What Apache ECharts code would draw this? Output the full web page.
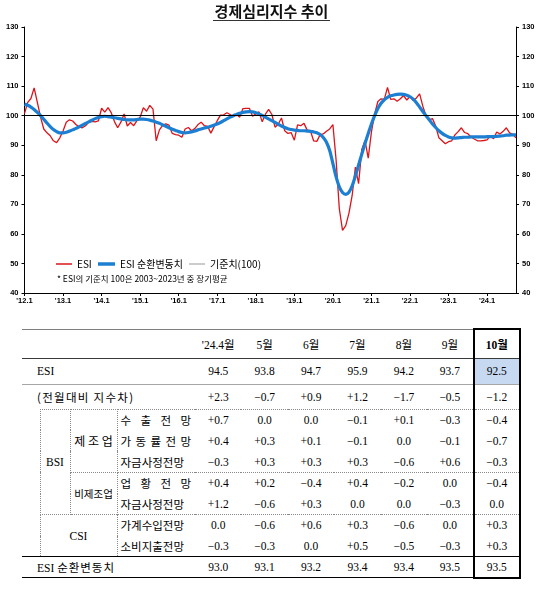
<!DOCTYPE html>
<html>
<head>
<meta charset="utf-8">
<script src="https://cdn.jsdelivr.net/npm/echarts@6/dist/echarts.min.js"></script>
<style>
  html, body { margin:0; padding:0; background:#fff; }
  #wrap { position:relative; width:549px; height:590px; overflow:hidden; }
  #title { position:absolute; left:-3px; top:1px; width:549px; text-align:center; }
  #title span { display:inline-block; font-family:'Noto Sans CJK KR',sans-serif; font-weight:bold; font-size:15px; line-height:19px; color:#111; border-bottom:1px solid #333; padding:0 2px; }
  #chart { position:absolute; left:0; top:0; width:549px; height:310px; }
  #tbl { position:absolute; left:22px; top:328px; width:498px; border-collapse:collapse; table-layout:fixed;
         font-family:'Liberation Serif','Noto Sans CJK KR',serif; font-size:11.5px; color:#000; }
  #tbl td { padding:0; text-align:center; vertical-align:middle; white-space:nowrap; }
  #tbl td.lbl { text-align:left; padding-left:15px; font-family:'Liberation Serif','Noto Sans CJK KR',serif; }
  #tbl .kr { font-family:'Noto Sans CJK KR',sans-serif; font-size:11.5px; }
  #tbl td.item { font-family:'Noto Sans CJK KR',sans-serif; font-size:11.5px; text-align:justify; text-align-last:justify; padding:0 4px 0 3px; }
  #tbl .dt { border-top:1px dotted #8a8a8a; }
  #tbl .dl { border-left:1px dotted #8a8a8a; }
  #tbl .dr { border-right:1px dotted #8a8a8a; }
  #tbl .db { border-bottom:1px dotted #8a8a8a; }
  #tbl td.last { border-left:2px solid #000; border-right:2px solid #000; }
</style>
</head>
<body>
<div id="wrap">
  <div id="chart"></div>
  <div id="title"><span>경제심리지수 추이</span></div>
  <table id="tbl"></table>
</div>
<script>
// ---------- chart data (monthly, 2012.1 ~ 2024.10) ----------
const startYear = 2012;
const esi = [
  100.7, 104.5, 105.8, 109.4, 104.5, 99.5, 95.5, 94.2, 93.2, 91.5, 90.9, 92.5,
  94.8, 97.8, 98.6, 98.2, 97.0, 96.2, 95.9, 96.6, 97.8, 98.1, 97.9, 98.2,
  102.5, 101.2, 102.7, 101.0, 98.0, 95.9, 97.8, 100.6, 96.5, 97.7, 96.6, 98.3,
  99.5, 102.7, 101.5, 103.5, 102.2, 91.5, 95.2, 96.7, 97.2, 96.8, 94.0, 93.6,
  93.4, 92.7, 95.5, 96.0, 94.9, 95.6, 97.0, 97.8, 96.6, 96.4, 94.1, 96.2,
  98.3, 100.2, 100.3, 101.0, 100.4, 99.7, 100.4, 99.5, 102.4, 102.5, 102.5, 99.8,
  100.6, 101.3, 97.9, 100.5, 102.1, 100.4, 96.1, 97.2, 99.2, 94.9, 94.0, 94.3,
  91.7, 96.9, 96.6, 97.4, 95.1, 94.9, 91.5, 91.3, 93.5, 93.8, 94.7, 95.5,
  97.0, 85.0, 68.5, 61.2, 62.8, 67.0, 73.0, 82.6, 77.0, 88.6, 91.6, 85.6,
  94.5, 100.6, 104.8, 105.7, 105.5, 109.6, 105.5, 105.7, 104.9, 105.7, 106.8, 105.3,
  106.5, 105.1, 106.0, 107.4, 103.2, 99.8, 98.6, 99.0, 96.5, 92.5, 91.5, 90.5,
  91.2, 91.5, 93.5, 94.6, 95.9, 94.3, 93.9, 92.8, 92.1, 91.5, 91.5, 91.6,
  91.8, 93.2, 92.2, 94.5, 93.8, 94.7, 95.9, 94.2, 93.7, 92.5
];
const esiCycle = [
  103.9, 103.5, 102.9, 102.1, 101.1, 100.0, 98.8, 97.5, 96.3, 95.3, 94.6, 94.2,
  94.2, 94.4, 94.8, 95.2, 95.7, 96.2, 96.8, 97.4, 97.9, 98.5, 99.0, 99.4,
  99.7, 99.8, 99.7, 99.5, 99.3, 99.1, 98.9, 98.7, 98.6, 98.6, 98.6, 98.7,
  98.8, 98.8, 98.7, 98.5, 98.2, 97.8, 97.4, 96.9, 96.4, 95.9, 95.4, 95.0,
  94.6, 94.3, 94.2, 94.3, 94.5, 94.8, 95.2, 95.5, 95.8, 96.1, 96.4, 96.8,
  97.2, 97.7, 98.3, 98.9, 99.5, 100.0, 100.4, 100.8, 101.1, 101.3, 101.4, 101.3,
  101.0, 100.6, 100.1, 99.5, 98.9, 98.3, 97.7, 97.1, 96.5, 96.0, 95.6, 95.3,
  95.1, 95.0, 94.9, 94.9, 94.8, 94.7, 94.5, 94.2, 93.6, 92.6, 91.0, 88.2,
  83.8, 79.3, 75.9, 74.0, 73.4, 74.1, 76.3, 79.6, 83.3, 87.0, 90.6, 94.0,
  97.2, 100.0, 102.4, 104.2, 105.4, 106.2, 106.7, 107.0, 107.2, 107.3, 107.2, 106.9,
  106.4, 105.6, 104.4, 102.9, 101.4, 100.0, 98.6, 97.2, 96.0, 94.9, 94.0, 93.3,
  92.8, 92.5, 92.4, 92.5, 92.6, 92.7, 92.7, 92.8, 92.8, 92.8, 92.8, 92.8,
  92.9, 92.9, 92.9, 93.0, 93.1, 93.2, 93.4, 93.4, 93.5, 93.5
];
const baseValue = 100;
const yTicks = { min: 40, max: 130, interval: 10 };
const noteText = '* ESI의 기준치 100은 2003~2023년 중 장기평균';

// month categories
const months = [];
for (let i = 0; i < esi.length; i++) {
  const y = startYear + Math.floor(i / 12), m = (i % 12) + 1;
  months.push(y + '.' + m);
}

// ---------- table data ----------
const tblMonths = ["'24.4월", '5월', '6월', '7월', '8월', '9월', '10월'];
const tblESI    = [94.5, 93.8, 94.7, 95.9, 94.2, 93.7, 92.5];
const tblDiff   = [2.3, -0.7, 0.9, 1.2, -1.7, -0.5, -1.2];
const bsiExport = [0.7, 0.0, 0.0, -0.1, 0.1, -0.3, -0.4];
const bsiUtil   = [0.4, 0.3, 0.1, -0.1, 0.0, -0.1, -0.7];
const bsiFundM  = [-0.3, 0.3, 0.3, 0.3, -0.6, 0.6, -0.3];
const bsiBiz    = [0.4, 0.2, -0.4, 0.4, -0.2, 0.0, -0.4];
const bsiFundN  = [1.2, -0.6, 0.3, 0.0, 0.0, -0.3, 0.0];
const csiIncome = [0.0, -0.6, 0.6, 0.3, -0.6, 0.0, 0.3];
const csiSpend  = [-0.3, -0.3, 0.0, 0.5, -0.5, -0.3, 0.3];
const tblCycle  = [93.0, 93.1, 93.2, 93.4, 93.4, 93.5, 93.5];

// ---------- chart ----------
const chart = echarts.init(document.getElementById('chart'), null, { renderer: 'canvas' });
const axisFont = { fontSize: 7.5, fontWeight: 'bold', color: '#000', fontFamily: 'Liberation Sans, Arial, sans-serif' };
const yAxisCommon = {
  type: 'value', min: yTicks.min, max: yTicks.max, interval: yTicks.interval,
  axisLine: { show: true, lineStyle: { color: '#000', width: 1 } },
  axisTick: { show: true, length: 3, lineStyle: { color: '#000' } },
  splitLine: { show: false },
  axisLabel: Object.assign({ margin: 6 }, axisFont)
};
const legendText = { fontSize: 10, color: '#000', fontFamily: 'Noto Sans CJK KR, sans-serif' };
chart.setOption({
  animation: false,
  title: [{
    text: noteText, left: 52, top: 270,
    textStyle: { fontSize: 8.5, fontWeight: 'normal', color: '#000', fontFamily: 'Noto Sans CJK KR, sans-serif' }
  }],
  legend: [
    { left: 51, top: 254, itemWidth: 16, itemHeight: 1.5, icon: 'rect', textStyle: legendText,
      data: [{ name: 'ESI', icon: 'rect' }] },
    { left: 93, top: 254, itemWidth: 17, itemHeight: 3.5, icon: 'rect', itemGap: 2, textStyle: legendText,
      data: [{ name: 'ESI 순환변동치', icon: 'rect' }] },
    { left: 184, top: 254, itemWidth: 16, itemHeight: 1, icon: 'rect', textStyle: legendText,
      data: [{ name: '기준치(100)', icon: 'rect', itemStyle: { color: '#999' } }] }
  ],
  grid: { left: 24.5, right: 33, top: 27, bottom: 17, containLabel: false },
  xAxis: {
    type: 'category', data: months, boundaryGap: false,
    axisLine: { show: true, lineStyle: { color: '#000', width: 1 } },
    axisTick: { show: true, length: 3, interval: (i) => i % 12 === 0, lineStyle: { color: '#000' } },
    axisLabel: Object.assign({
      margin: 4,
      interval: (i) => i % 12 === 0,
      formatter: (v) => { const p = v.split('.'); return "'" + p[0].slice(2) + '.' + p[1]; }
    }, axisFont),
    splitLine: { show: false }
  },
  yAxis: [
    Object.assign({ position: 'left' }, yAxisCommon),
    Object.assign({ position: 'right' }, yAxisCommon)
  ],
  series: [
    {
      name: '기준치(100)', type: 'line', data: [], symbol: 'none',
      lineStyle: { color: '#000', width: 1 }, itemStyle: { color: '#000' },
      markLine: {
        silent: true, symbol: 'none', label: { show: false },
        lineStyle: { color: '#000', width: 1, type: 'solid' },
        data: [{ yAxis: baseValue }]
      }
    },
    {
      name: 'ESI', type: 'line', data: esi, symbol: 'none', showSymbol: false,
      lineStyle: { color: '#d9151b', width: 1.3 }, itemStyle: { color: '#d9151b' }
    },
    {
      name: 'ESI 순환변동치', type: 'line', data: esiCycle, symbol: 'none', showSymbol: false,
      smooth: 0.3,
      lineStyle: { color: '#1c7fd2', width: 3.2 }, itemStyle: { color: '#1c7fd2' }
    }
  ]
});

// ---------- table ----------
function fmtS(v) {
  if (v > 0) return '+' + v.toFixed(1);
  if (v < 0) return '\u2212' + Math.abs(v).toFixed(1);
  return '0.0';
}
function fmtN(v) { return v.toFixed(1); }
function dataCells(arr, fmt, extra, style, lastBg) {
  return arr.map((v, i) => {
    const isLast = i === arr.length - 1;
    const cls = (extra || '') + (isLast ? ' last' : '');
    let st = style || '';
    if (isLast && lastBg) st += ';background:' + lastBg;
    return '<td class="' + cls + '"' + (st ? ' style="' + st + '"' : '') + '>' + fmt(v) + '</td>';
  }).join('');
}
const colW = (498 - 18 - 30 - 47 - 78) / 7;
let h = '<colgroup><col style="width:18px"><col style="width:30px"><col style="width:47px"><col style="width:78px">';
for (let i = 0; i < 7; i++) h += '<col style="width:' + colW + 'px">';
h += '</colgroup>';
// header
h += '<tr style="height:29px">';
h += '<td colspan="4" style="border-top:1px solid #7f7f7f;border-bottom:1px solid #3a3a3a"></td>';
tblMonths.forEach((m, i) => {
  const isLast = i === tblMonths.length - 1;
  const st = isLast
    ? 'border-top:2px solid #000;border-bottom:1px solid #3a3a3a;font-weight:bold'
    : 'border-top:1px solid #7f7f7f;border-bottom:1px solid #3a3a3a';
  h += '<td class="' + (isLast ? 'last' : '') + '" style="' + st + '">' + m + '</td>';
});
h += '</tr>';
// ESI row
h += '<tr style="height:26px"><td colspan="4" class="lbl" style="border-bottom:1px solid #a6a6a6">ESI</td>';
h += dataCells(tblESI, fmtN, '', 'border-bottom:1px solid #a6a6a6', '#c6d9f1') + '</tr>';
// diff row
h += '<tr style="height:25px"><td colspan="4" class="lbl"><span class="kr" style="font-size:11.5px;letter-spacing:1.3px">(전월대비 지수차)</span></td>';
h += dataCells(tblDiff, fmtS) + '</tr>';
const rh = 'height:21.14px';
// BSI manufacturing
h += '<tr style="' + rh + '"><td rowspan="7"></td>' +
     '<td rowspan="5" class="kr dt dl dr db" style="font-family:Liberation Serif,serif;font-size:11.5px">BSI</td>' +
     '<td rowspan="3" class="kr dt dr db" style="font-size:12px;letter-spacing:0">제 조 업</td>' +
     '<td class="item dt">수 출 전 망</td>' + dataCells(bsiExport, fmtS, 'dt') + '</tr>';
h += '<tr style="' + rh + '"><td class="item">가 동 률 전 망</td>' + dataCells(bsiUtil, fmtS) + '</tr>';
h += '<tr style="' + rh + '"><td class="item">자금사정전망</td>' + dataCells(bsiFundM, fmtS) + '</tr>';
// BSI non-manufacturing
h += '<tr style="' + rh + '"><td rowspan="2" class="kr dt dr" style="font-size:10.5px">비제조업</td>' +
     '<td class="item dt">업 황 전 망</td>' + dataCells(bsiBiz, fmtS, 'dt') + '</tr>';
h += '<tr style="' + rh + '"><td class="item">자금사정전망</td>' + dataCells(bsiFundN, fmtS) + '</tr>';
// CSI
h += '<tr style="' + rh + '"><td rowspan="2" colspan="2" class="dt dl dr" style="font-family:Liberation Serif,serif">CSI</td>' +
     '<td class="item dt">가계수입전망</td>' + dataCells(csiIncome, fmtS, 'dt') + '</tr>';
h += '<tr style="' + rh + '"><td class="item">소비지출전망</td>' + dataCells(csiSpend, fmtS) + '</tr>';
// cycle row
h += '<tr style="height:21px"><td colspan="4" class="lbl" style="border-top:1px solid #000;border-bottom:1px solid #000">ESI <span class="kr" style="letter-spacing:1px">순환변동치</span></td>';
tblCycle.forEach((v, i) => {
  const isLast = i === tblCycle.length - 1;
  h += '<td class="' + (isLast ? 'last' : '') + '" style="border-top:1px solid #000;border-bottom:' + (isLast ? '2px' : '1px') + ' solid #000">' + fmtN(v) + '</td>';
});
h += '</tr>';
document.getElementById('tbl').innerHTML = h;
</script>
</body>
</html>
